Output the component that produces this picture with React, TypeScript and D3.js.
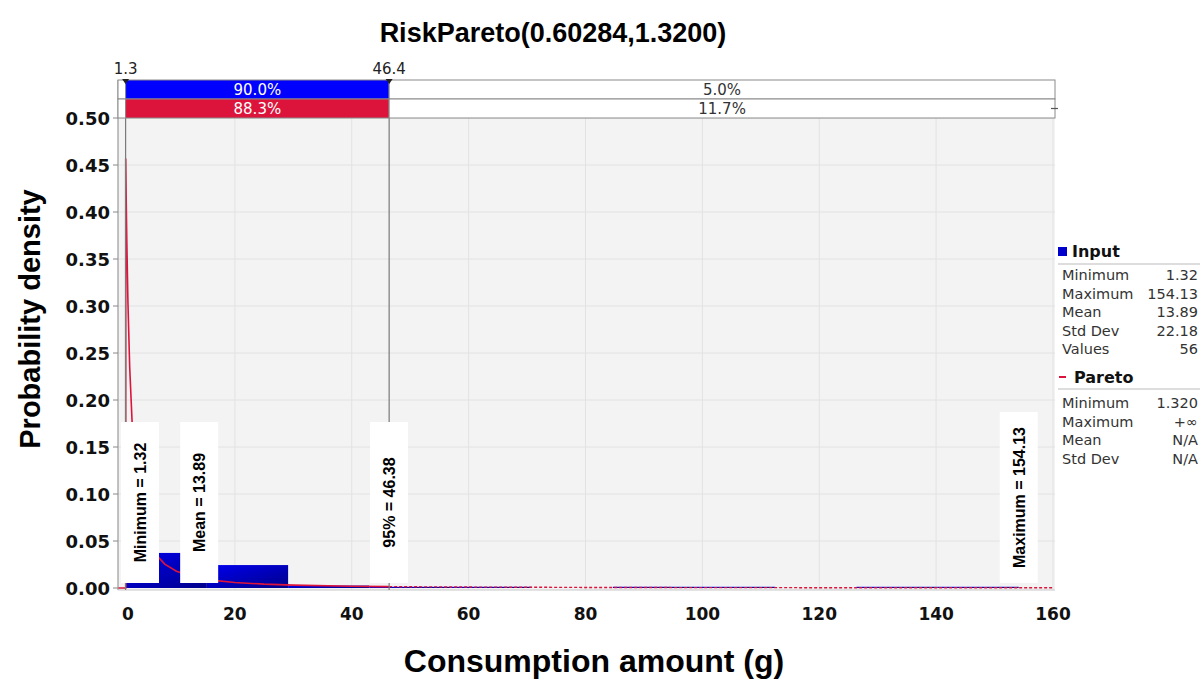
import React from 'react';
import * as d3 from 'd3';

// chart values
const chartTitle = 'RiskPareto(0.60284,1.3200)';
const xTicks = [0, 20, 40, 60, 80, 100, 120, 140, 160];
const yTicks = [0, 0.05, 0.1, 0.15, 0.2, 0.25, 0.3, 0.35, 0.4, 0.45, 0.5];

// histogram of the 56 input values
const binEdges = [1.32, 15.21, 29.11, 43.0, 56.9, 70.79, 84.69, 98.58, 112.47, 126.37, 140.26, 154.13];
const binDensity = [0.0373, 0.0244, 0.0026, 0.0013, 0.0013, 0, 0.0013, 0.0013, 0, 0.0013, 0.0013];

// fitted Pareto density curve
const paretoX = [0, 1.32, 1.32, 1.4, 1.5, 1.7, 2, 2.5, 3, 4, 5, 6.5, 8, 10, 13, 16, 20, 25, 30, 40, 46.4, 50, 60, 80, 100, 130, 160];
const paretoY = [0, 0, 0.457, 0.4155, 0.372, 0.304, 0.235, 0.164, 0.1225, 0.0772, 0.054, 0.0355, 0.0254, 0.0178, 0.0117, 0.0084, 0.0059, 0.0041, 0.0031, 0.0019, 0.0015, 0.0013, 0.001, 0.0006, 0.0004, 0.0003, 0.0002];

// marker labels
const markerLabels = ['Minimum = 1.32', 'Mean = 13.89', '95% = 46.38', 'Maximum = 154.13'];
const markerValues = [1.32, 13.89, 46.38, 154.13];

// delimiters and the two probability bands
const bandEdges = [1.3, 46.4];
const inputBand = ['', '90.0%', '5.0%'];
const paretoBand = ['', '88.3%', '11.7%'];

// legend statistics
const inputStatNames = ['Minimum', 'Maximum', 'Mean', 'Std Dev', 'Values'];
const inputStatValues = ['1.32', '154.13', '13.89', '22.18', '56'];
const paretoStatNames = ['Minimum', 'Maximum', 'Mean', 'Std Dev'];
const paretoStatValues = ['1.320', '+\u221e', 'N/A', 'N/A'];

const W = 1202;
const H = 679;
const plot = { left: 118, right: 1055, top: 118, bottom: 590 };
const bandTop = 80;
const rowH = 19;

const BLUE = '#0000ff';
const RED = '#dc143c';
const ARIAL = '"Liberation Sans", Arial, sans-serif';
const VERDANA = '"DejaVu Sans", Verdana, sans-serif';

export default function App() {
  const x = d3.scaleLinear().domain([0, 160]).range([plot.left, 1053]);
  const y = d3.scaleLinear().domain([0, 0.5]).range([588, plot.top]);

  const pts = paretoX.map((v, i) => [v, paretoY[i]] as [number, number]);
  const line = d3.line<[number, number]>()
    .x(d => x(d[0]))
    .y(d => y(d[1]))
    .curve(d3.curveLinear);
  const cut = bandEdges[1];
  const solidPts = pts.filter(d => d[0] <= cut);
  const tailPts = pts.filter(d => d[0] >= cut);

  // band segments: [plot.left .. edge0], [edge0 .. edge1], [edge1 .. right]
  const segX = [plot.left, x(bandEdges[0]), x(bandEdges[1]), plot.right];

  const legendX = 1058;

  return (
    <div style={{ position: 'absolute', left: 0, top: 0 }}>
      <svg width={W} height={H} style={{ display: 'block', background: '#fff' }}>
        <defs>
          <linearGradient id="barGrad" x1="0" y1="0" x2="1" y2="1">
            <stop offset="0%" stopColor="#0000f0" />
            <stop offset="100%" stopColor="#00008a" />
          </linearGradient>
        </defs>

        {/* title */}
        <text x={553} y={42} textAnchor="middle" fontFamily={ARIAL} fontWeight="bold" fontSize={27} fill="#000">
          {chartTitle}
        </text>

        {/* plot background and grid */}
        <rect x={plot.left} y={plot.top} width={plot.right - plot.left} height={plot.bottom - plot.top} fill="#f3f3f3" />
        {xTicks.slice(1).map(t => (
          <line key={'gx' + t} x1={x(t)} x2={x(t)} y1={plot.top} y2={plot.bottom} stroke="#e2e2e2" strokeWidth={1} />
        ))}
        {yTicks.slice(1).map(t => (
          <line key={'gy' + t} x1={plot.left} x2={plot.right} y1={y(t)} y2={y(t)} stroke="#e2e2e2" strokeWidth={1} />
        ))}

        {/* histogram */}
        {binDensity.map((d, i) => d > 0 && (
          <rect key={'b' + i}
            x={x(binEdges[i])}
            y={y(d)}
            width={x(binEdges[i + 1]) - x(binEdges[i])}
            height={Math.max(1, y(0) - y(d))}
            fill="url(#barGrad)" />
        ))}

        {/* pareto curve */}
        <path d={line(solidPts) || ''} fill="none" stroke={RED} strokeWidth={1.6} />
        <path d={line(tailPts) || ''} fill="none" stroke={RED} strokeWidth={1.4} strokeDasharray="3,2" />

        {/* axis frame */}
        <line x1={plot.left} x2={plot.left} y1={bandTop} y2={plot.bottom} stroke="#9a9a9a" strokeWidth={1.2} />
        <line x1={plot.left} x2={plot.right} y1={plot.bottom} y2={plot.bottom} stroke="#c8c8c8" strokeWidth={1} />

        {/* delimiter lines */}
        {bandEdges.map((e, i) => (
          <line key={'dl' + i} x1={x(e)} x2={x(e)} y1={bandTop} y2={plot.bottom} stroke="#7a7a7a" strokeWidth={1.2} />
        ))}

        {/* probability bands */}
        {[inputBand, paretoBand].map((band, r) => (
          <g key={'band' + r}>
            {band.map((lbl, i) => {
              const x0 = segX[i];
              const x1 = segX[i + 1];
              const filled = i === 1;
              const fill = filled ? (r === 0 ? BLUE : RED) : '#fff';
              return (
                <g key={'seg' + i}>
                  <rect x={x0} y={bandTop + r * rowH} width={x1 - x0} height={rowH} fill={fill} stroke="#8a8a8a" strokeWidth={1} />
                  {lbl && (
                    <text x={(x0 + x1) / 2} y={bandTop + r * rowH + 15} textAnchor="middle"
                      fontFamily={VERDANA} fontSize={15} fill={filled ? '#fff' : '#333'}>
                      {lbl}
                    </text>
                  )}
                </g>
              );
            })}
          </g>
        ))}
        <line x1={plot.right - 4} x2={plot.right + 3} y1={bandTop + rowH * 1.5} y2={bandTop + rowH * 1.5} stroke="#555" strokeWidth={1.2} />

        {/* delimiter labels */}
        {bandEdges.map((e, i) => (
          <g key={'dlab' + i}>
            <text x={x(e)} y={74} textAnchor="middle" fontFamily={VERDANA} fontSize={15} fill="#222">
              {String(e)}
            </text>
            <path d={`M${x(e) - 3.5},${bandTop - 1} L${x(e) + 3.5},${bandTop - 1} L${x(e)},${bandTop + 4} Z`} fill="#222" />
          </g>
        ))}

        {/* marker boxes */}
        {markerValues.map((v, i) => {
          const cx = Math.max(x(v), plot.left + 22);
          const top = i === 3 ? 412 : 422;
          const bottom = 583;
          const mid = (top + bottom) / 2;
          return (
            <g key={'m' + i}>
              <rect x={cx - 19} y={top} width={38} height={bottom - top} fill="#fff" />
              <text transform={`translate(${cx + 6},${mid}) rotate(-90)`} textAnchor="middle"
                fontFamily={ARIAL} fontWeight="bold" fontSize={16} fill="#000">
                {markerLabels[i]}
              </text>
            </g>
          );
        })}

        {/* y axis */}
        {yTicks.map(t => (
          <g key={'yt' + t}>
            <line x1={plot.left - 5} x2={plot.left} y1={y(t)} y2={y(t)} stroke="#888" />
            <text x={110} y={y(t) + 6.5} textAnchor="end" fontFamily={VERDANA} fontWeight="bold" fontSize={18} fill="#111">
              {t.toFixed(2)}
            </text>
          </g>
        ))}

        {/* x axis */}
        {xTicks.map((t, i) => (
          <text key={'xt' + t} x={i === 0 ? x(t) + 10 : x(t)} y={620} textAnchor="middle"
            fontFamily={VERDANA} fontWeight="bold" fontSize={17} fill="#111">
            {t}
          </text>
        ))}

        {/* axis titles */}
        <text transform="translate(40,319) rotate(-90)" textAnchor="middle" fontFamily={ARIAL} fontWeight="bold" fontSize={29} fill="#000">
          Probability density
        </text>
        <text x={594} y={672} textAnchor="middle" fontFamily={ARIAL} fontWeight="bold" fontSize={32} fill="#000">
          Consumption amount (g)
        </text>

        {/* legend */}
        <rect x={legendX} y={247} width={9} height={9} fill="#0000cc" />
        <text x={legendX + 14} y={257} fontFamily={VERDANA} fontWeight="bold" fontSize={16} fill="#111">Input</text>
        <line x1={legendX} x2={1200} y1={264} y2={264} stroke="#bbb" />
        {inputStatNames.map((n, i) => (
          <g key={'is' + i}>
            <text x={legendX + 4} y={280 + i * 18.6} fontFamily={VERDANA} fontSize={14.5} fill="#333">{n}</text>
            <text x={1198} y={280 + i * 18.6} textAnchor="end" fontFamily={VERDANA} fontSize={14.5} fill="#333">{inputStatValues[i]}</text>
          </g>
        ))}
        <line x1={legendX + 1} x2={legendX + 8} y1={377} y2={377} stroke={RED} strokeWidth={2} />
        <text x={legendX + 16} y={383} fontFamily={VERDANA} fontWeight="bold" fontSize={16} fill="#111">Pareto</text>
        <line x1={legendX} x2={1200} y1={389} y2={389} stroke="#bbb" />
        {paretoStatNames.map((n, i) => (
          <g key={'ps' + i}>
            <text x={legendX + 4} y={408 + i * 18.6} fontFamily={VERDANA} fontSize={14.5} fill="#333">{n}</text>
            <text x={1198} y={408 + i * 18.6} textAnchor="end" fontFamily={VERDANA} fontSize={14.5} fill="#333">{paretoStatValues[i]}</text>
          </g>
        ))}
      </svg>
    </div>
  );
}
